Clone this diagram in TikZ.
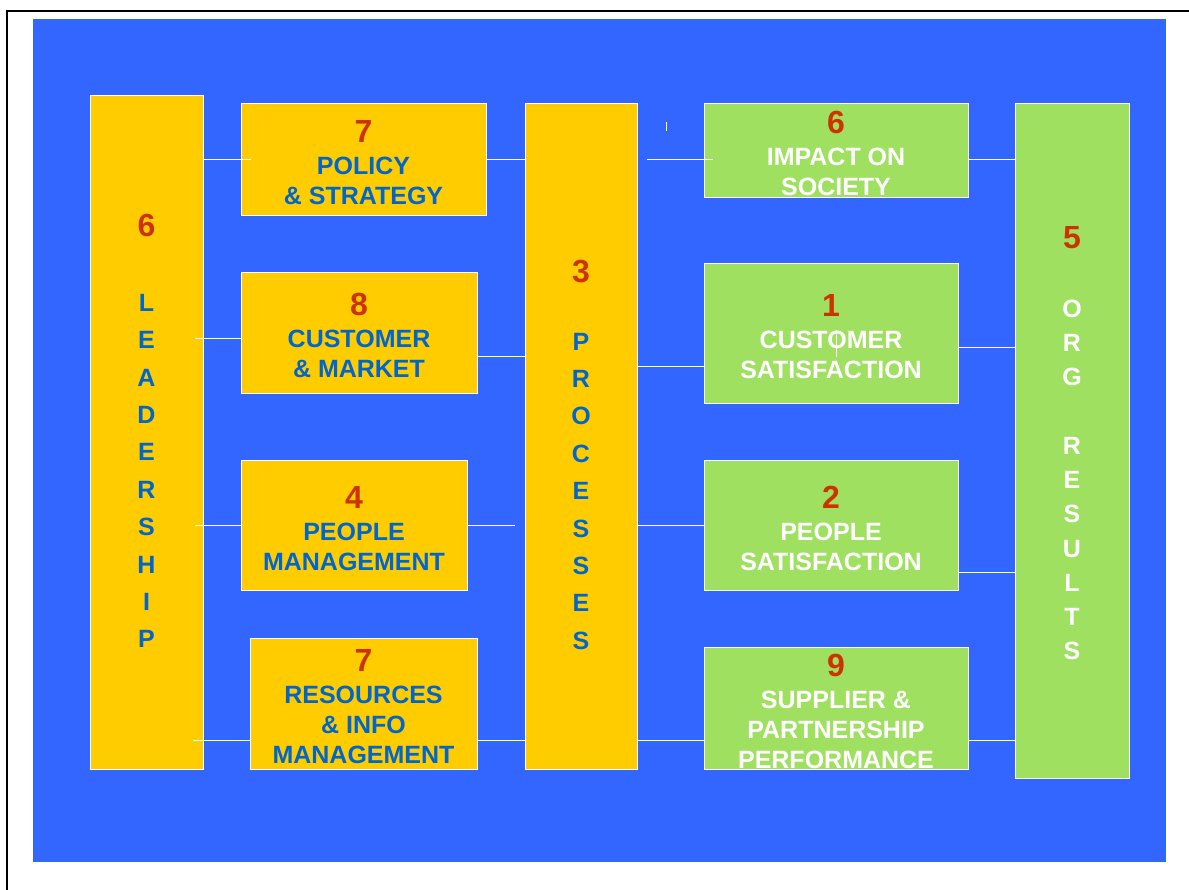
\documentclass[tikz,border=0pt]{standalone}
\usepackage{fontspec}
\setmainfont{Liberation Sans}
\definecolor{bgblue}{HTML}{3366FF}
\definecolor{boxyellow}{HTML}{FFCC00}
\definecolor{boxgreen}{HTML}{A0E060}
\definecolor{txtblue}{HTML}{0066CC}
\definecolor{numred}{HTML}{CC3300}
\newcommand\numfont{\fontsize{32}{32}\selectfont\color{numred}}
\newcommand\bignum[1]{{\numfont\rule{0pt}{29pt}#1}}

\begin{document}
\begin{tikzpicture}[x=1pt, y=-1pt,
    ybox/.style={draw=white, line width=0.8pt, fill=boxyellow, inner sep=0pt,
      align=center, text=txtblue, font=\fontsize{25}{30}\selectfont\bfseries},
    gbox/.style={ybox, fill=boxgreen, text=white},
    col/.style={align=center, font=\fontsize{25}{37.4}\selectfont\bfseries},
    link/.style={draw=white, line width=0.8pt}]
  \useasboundingbox (0,0) rectangle (1189,890);
  % page frame and blue panel
  \draw[line width=1.5pt] (7,892) |- (1195,11);
  \fill[bgblue] (33,19) rectangle (1166,862);

  % left column
  \node[ybox, minimum width=113pt, minimum height=674pt] (lead) at (146.5,432) {};
  \node[col, text=txtblue] (leadtxt) at (146.5,431)
    {{\numfont 6}\\ \\ L\\E\\A\\D\\E\\R\\S\\H\\I\\P};

  % enablers
  \node[ybox, minimum width=245pt, minimum height=112pt] (pol) at (363.5,159)
    {\bignum{7}\\[2pt] POLICY\\ \& STRATEGY};
  \node[ybox, minimum width=236pt, minimum height=121pt] (cm) at (359,332.5)
    {\bignum{8}\\[2pt] CUSTOMER\\ \& MARKET};
  \node[ybox, minimum width=226pt, minimum height=130pt] (pm) at (354,525)
    {\bignum{4}\\[2pt] PEOPLE\\ MANAGEMENT};
  \node[ybox, minimum width=227pt, minimum height=131pt] (res) at (363.5,703.5)
    {\bignum{7}\\[2pt] RESOURCES\\ \& INFO\\ MANAGEMENT};

  % processes
  \node[ybox, minimum width=112pt, minimum height=666pt] (proc) at (581,436) {};
  \node[col, text=txtblue] (proctxt) at (581,455)
    {{\numfont 3}\\[30pt] P\\R\\O\\C\\E\\S\\S\\E\\S};

  % results
  \node[gbox, minimum width=264pt, minimum height=94pt] (imp) at (836,150)
    {\bignum{6}\\[2pt] IMPACT ON\\ SOCIETY};
  \node[gbox, minimum width=254pt, minimum height=140pt] (cs) at (831,333)
    {\bignum{1}\\[2pt] CUSTOMER\\ SATISFACTION};
  \node[gbox, minimum width=254pt, minimum height=130pt] (ps) at (831,525)
    {\bignum{2}\\[2pt] PEOPLE\\ SATISFACTION};
  \node[gbox, minimum width=264pt, minimum height=122pt] (sup) at (836,708)
    {\bignum{9}\\[2pt] SUPPLIER \&\\ PARTNERSHIP\\ PERFORMANCE};

  \node[gbox, minimum width=114pt, minimum height=675pt] (org) at (1072,440.5) {};
  \node[col, text=white, font=\fontsize{25}{34.25}\selectfont\bfseries] (orgtxt) at (1072,443.5)
    {{\numfont 5}\\ \\ O\\R\\G\\ \\ R\\E\\S\\U\\L\\T\\S};

  % connectors
  \draw[link] (lead.east |- pol) -- ([xshift=10pt]pol.west);
  \draw[link] (pol.east) -- (proc.west |- pol);
  \draw[link] ([xshift=10pt]proc.east |- pol) -- ([xshift=9pt]imp.west |- pol);
  \draw[link] (imp.east |- pol) -- (org.west |- pol);
  \coordinate (tick) at (666,122);
  \draw[link] (tick) -- ++(0,9);

  \draw[link] ([xshift=-8pt]lead.east |- 0,338) -- (cm.west |- 0,338);
  \draw[link] (cm.east |- 0,356) -- (proc.west |- 0,356);
  \draw[link] (proc.east |- 0,366) -- (cs.west |- 0,366);
  \draw[link] (cs.east |- 0,347) -- (org.west |- 0,347);
  \coordinate (cstick) at (836,330);
  \draw[link] (cstick) -- ++(0,27);

  \draw[link] ([xshift=-8pt]lead.east |- pm) -- (pm.west);
  \draw[link] (pm.east) -- ([xshift=-10pt]proc.west |- pm);
  \draw[link] (proc.east |- pm) -- (ps.west);
  \draw[link] (ps.east |- 0,572) -- (org.west |- 0,572);

  \draw[link] ([xshift=-10pt]lead.east |- 0,740) -- (res.west |- 0,740);
  \draw[link] (res.east |- 0,740) -- (proc.west |- 0,740);
  \draw[link] (proc.east |- 0,740) -- (sup.west |- 0,740);
  \draw[link] (sup.east |- 0,740) -- (org.west |- 0,740);
\end{tikzpicture}
\end{document}
